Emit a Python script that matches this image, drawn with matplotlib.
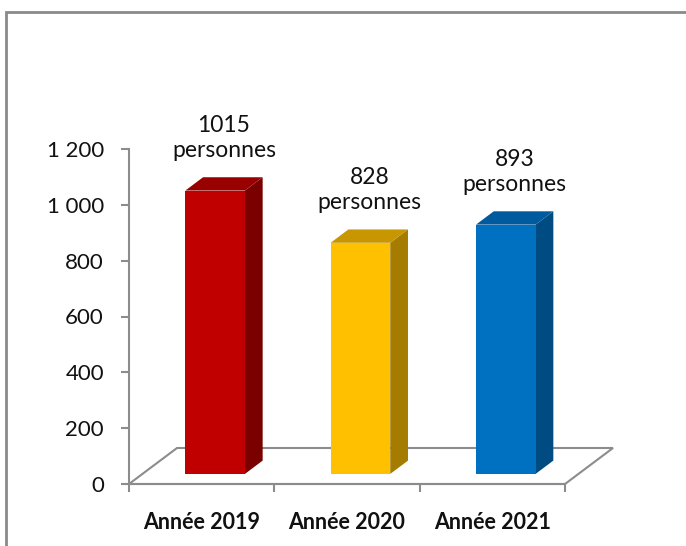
import matplotlib.pyplot as plt
from matplotlib.patches import Polygon, Rectangle

# Données
annees = ['Année 2019', 'Année 2020', 'Année 2021']
valeurs = [1015, 828, 893]
couleurs_face = ['#C00000', '#FFC000', '#0070C0']
couleurs_cote = ['#7A0000', '#A67C00', '#004B82']
couleurs_dessus = ['#990000', '#C89600', '#005A9E']
y_ticks = [0, 200, 400, 600, 800, 1000, 1200]

plt.rcParams['font.family'] = ['Lato', 'DejaVu Sans']
gris = '#8C8C8C'

W, H = 686, 546
fig = plt.figure(figsize=(W / 100, H / 100), dpi=100)
# cadre gris du graphique (coupé à droite et en bas)
fig.patches.append(Rectangle((6 / W, -0.1), 1.2, 1.1 - 12 / H,
                             transform=fig.transFigure, fill=False,
                             edgecolor='#8A8A8A', linewidth=2))

ax = fig.add_axes([129 / W, (H - 484) / H, (565 - 129) / W, (484 - 149) / H])
ax.set_xlim(-0.5, 2.5)
ax.set_ylim(0, 1200)

# profondeur du sol (effet 3D) en unités de données
px_x = 3 / (565 - 129)     # unités x par pixel
px_y = 1200 / (484 - 149)  # unités y par pixel
ddx, ddy = 48 * px_x, 36 * px_y
f0, f1 = 0.28, 0.37        # position et profondeur des barres
largeur = 0.41

# sol
sol = Polygon([(-0.5, 0), (2.5, 0), (2.5 + ddx, ddy), (-0.5 + ddx, ddy)],
              closed=True, fill=False, edgecolor=gris, linewidth=1.5,
              clip_on=False, zorder=1)
ax.add_patch(sol)

ox, oy = f0 * ddx, f0 * ddy
bx, by = f1 * ddx, f1 * ddy
xs = [i + ox for i in range(len(valeurs))]
ax.bar(xs, valeurs, width=largeur, bottom=oy, color=couleurs_face,
       zorder=3, clip_on=False)

for x, v, cc, cd in zip(xs, valeurs, couleurs_cote, couleurs_dessus):
    xl, xr = x - largeur / 2, x + largeur / 2
    haut = oy + v
    ax.add_patch(Polygon([(xr, oy), (xr + bx, oy + by), (xr + bx, haut + by), (xr, haut)],
                         closed=True, facecolor=cc, edgecolor='none',
                         clip_on=False, zorder=2))
    ax.add_patch(Polygon([(xl, haut), (xr, haut), (xr + bx, haut + by), (xl + bx, haut + by)],
                         closed=True, facecolor=cd, edgecolor='none',
                         clip_on=False, zorder=2))
    ax.annotate(f'{v}\npersonnes', (x + bx / 2, haut), xytext=(0, 38),
                textcoords='offset points', ha='center', va='center',
                fontsize=16.5, linespacing=1.25, color='#111111')

for s in ['top', 'right']:
    ax.spines[s].set_visible(False)
for s in ['left', 'bottom']:
    ax.spines[s].set_color(gris)
    ax.spines[s].set_linewidth(1.5)

ax.set_yticks(y_ticks)
ax.set_yticklabels([f'{t:,}'.replace(',', ' ') for t in y_ticks])
ax.tick_params(axis='y', direction='out', length=6, width=1.5, color=gris,
               labelsize=16, pad=12, labelcolor='#111111')

ax.set_xticks(range(len(annees)))
ax.set_xticklabels(annees, fontweight='bold')
ax.set_xticks([-0.5, 0.5, 1.5, 2.5], minor=True)
ax.tick_params(axis='x', which='major', length=0, labelsize=15.5, pad=20,
               labelcolor='#111111')
ax.tick_params(axis='x', which='minor', direction='out', length=6,
               width=1.5, color=gris)

fig.savefig('out.png', dpi=100)
